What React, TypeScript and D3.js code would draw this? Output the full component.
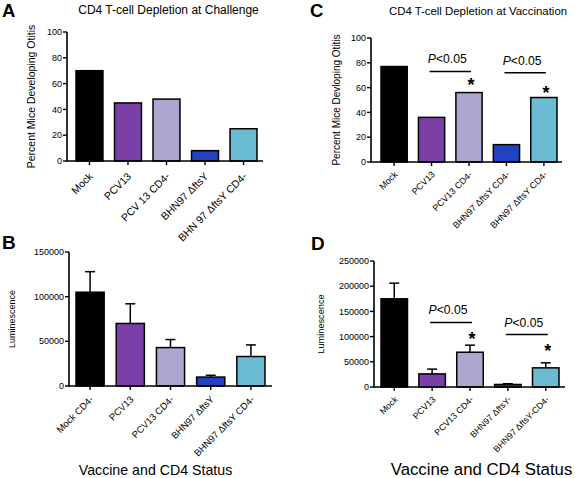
import React from "react";
import * as d3 from "d3";

// ---------- data ----------
const colors = ["#000000", "#7b3fa8", "#aca6d1", "#2242c2", "#6bbcd2"];

const catsA = ["Mock", "PCV13", "PCV 13 CD4-", "BHN97 \u0394ftsY", "BHN 97 \u0394ftsY CD4-"];
const valsA = [70, 45, 48, 8, 25];
const ticksA = [0, 20, 40, 60, 80, 100];

const catsB = ["Mock CD4-", "PCV13", "PCV13 CD4-", "BHN97 \u0394ftsY", "BHN97 \u0394ftsY CD4-"];
const valsB = [105000, 70000, 43000, 10000, 33000];
const errB = [23000, 22000, 9000, 2000, 13000];
const ticksB = [0, 50000, 100000, 150000];

const catsC = ["Mock", "PCV13", "PCV13 CD4-", "BHN97 \u0394ftsY CD4-", "BHN97 \u0394ftsY CD4-"];
const valsC = [77, 36, 56, 14, 52];
const ticksC = [0, 20, 40, 60, 80, 100];
const sigC = [[1, 2, 73], [3, 4, 72]];
const starC = [[2, 65], [4, 59]];

const catsD = ["Mock", "PCV13", "PCV13 CD4-", "BHN97 \u0394ftsY-", "BHN97 \u0394ftsY-CD4-"];
const valsD = [175000, 26000, 69000, 5000, 38000];
const errD = [31000, 9500, 14000, 1500, 10000];
const ticksD = [0, 50000, 100000, 150000, 200000, 250000];
const sigD = [[1, 2, 128000], [3, 4, 104000]];
const starD = [[2, 103000], [4, 79000]];

const FONT = "'Liberation Sans', Arial, Helvetica, sans-serif";

type PanelProps = {
  cats: string[];
  vals: number[];
  errs?: number[];
  ticks: number[];
  axisX: number;
  axisRight: number;
  band: [number, number];
  yRange: [number, number];
  yMax: number;
  yLabel: string;
  yLabelX: number;
  labelFont: number;
  labelDy: number;
  yLabelFont: number;
  sig?: number[][];
  stars?: number[][];
};

function Panel(p: PanelProps) {
  const idx = p.cats.map((_, i) => i);
  const x = d3.scaleBand<number>().domain(idx).range(p.band).paddingInner(0.3).paddingOuter(0);
  const y = d3.scaleLinear().domain([0, p.yMax]).range(p.yRange);
  const base = y(0);
  const bw = x.bandwidth();
  const cx = (i: number) => (x(i) as number) + bw / 2;
  const yMid = (p.yRange[0] + p.yRange[1]) / 2;
  return (
    <g fontFamily={FONT}>
      {idx.map((i) => (
        <rect key={"b" + i} x={x(i)} y={y(p.vals[i])} width={bw} height={base - y(p.vals[i])}
          fill={colors[i]} stroke="#000" strokeWidth={1.5} />
      ))}
      {p.errs && idx.map((i) => {
        const top = y(p.vals[i] + p.errs![i]);
        return (
          <g key={"e" + i} stroke="#000" strokeWidth={1.5}>
            <line x1={cx(i)} x2={cx(i)} y1={y(p.vals[i])} y2={top} />
            <line x1={cx(i) - 5} x2={cx(i) + 5} y1={top} y2={top} />
          </g>
        );
      })}
      {/* axes */}
      <line x1={p.axisX} x2={p.axisX} y1={base + 0.75} y2={y(p.yMax)} stroke="#000" strokeWidth={1.6} />
      <line x1={p.axisX} x2={p.axisRight} y1={base} y2={base} stroke="#000" strokeWidth={1.6} />
      {p.ticks.map((t) => (
        <g key={"t" + t}>
          <line x1={p.axisX - 4} x2={p.axisX} y1={y(t)} y2={y(t)} stroke="#000" strokeWidth={1.4} />
          <text x={p.axisX - 5} y={y(t)} dy="0.35em" textAnchor="end" fontSize={9}>{t}</text>
        </g>
      ))}
      {idx.map((i) => (
        <g key={"x" + i}>
          <line x1={cx(i)} x2={cx(i)} y1={base} y2={base + 4} stroke="#000" strokeWidth={1.4} />
          <text transform={`translate(${cx(i) + 4},${base + p.labelDy}) rotate(-45)`} textAnchor="end"
            fontSize={p.labelFont}>{p.cats[i]}</text>
        </g>
      ))}
      <text transform={`translate(${p.yLabelX},${yMid}) rotate(-90)`} textAnchor="middle"
        fontSize={p.yLabelFont}>{p.yLabel}</text>
      {p.sig && p.sig.map((s, k) => {
        const x1 = cx(s[0]) - 2;
        const x2 = cx(s[1]) + 2;
        const yy = y(s[2]);
        return (
          <g key={"s" + k}>
            <line x1={x1} x2={x2} y1={yy} y2={yy} stroke="#000" strokeWidth={1.5} />
            <text x={(x1 + x2) / 2 - 3} y={yy - 8} textAnchor="middle" fontSize={12.2}>
              <tspan fontStyle="italic">P</tspan>&lt;0.05
            </text>
          </g>
        );
      })}
      {p.stars && p.stars.map((s, k) => (
        <text key={"st" + k} x={cx(s[0]) + 2} y={y(s[1]) + 10} textAnchor="middle"
          fontSize={18} fontWeight="bold">*</text>
      ))}
    </g>
  );
}

export default function App() {
  return (
    <div style={{ position: "absolute", left: 0, top: 0 }}>
      <svg width={577} height={478} style={{ display: "block", background: "#fff" }}>
        <rect width={577} height={478} fill="#fff" />
        <g fontFamily={FONT}>
          <text x={2} y={16.5} fontSize={18.5} fontWeight="bold">A</text>
          <text x={310} y={16.5} fontSize={18.5} fontWeight="bold">C</text>
          <text x={2} y={249} fontSize={19} fontWeight="bold">B</text>
          <text x={311} y={250} fontSize={19} fontWeight="bold">D</text>
          <text x={168.5} y={14} fontSize={12} textAnchor="middle">CD4 T-cell Depletion at Challenge</text>
          <text x={478} y={15} fontSize={11.4} textAnchor="middle">CD4 T-cell Depletion at Vaccination</text>
          <text x={155.5} y={475} fontSize={14.2} textAnchor="middle">Vaccine and CD4 Status</text>
          <text x={481.5} y={475} fontSize={16.8} textAnchor="middle">Vaccine and CD4 Status</text>
        </g>
        <Panel cats={catsA} vals={valsA} ticks={ticksA} axisX={67} axisRight={263} band={[76, 257]}
          yRange={[161, 32]} yMax={100} yLabel="Percent Mice Developing Otitis" yLabelX={35}
          labelFont={10.5} labelDy={16} yLabelFont={10.5} />
        <Panel cats={catsB} vals={valsB} errs={errB} ticks={ticksB} axisX={69} axisRight={272} band={[76, 265]}
          yRange={[386, 252]} yMax={150000} yLabel="Luminescence" yLabelX={15}
          labelFont={9.5} labelDy={14} yLabelFont={9} />
        <Panel cats={catsC} vals={valsC} ticks={ticksC} axisX={371} axisRight={562} band={[381, 557]}
          yRange={[162, 38]} yMax={100} yLabel="Percent Mice Devloping Otitis" yLabelX={340}
          labelFont={9} labelDy={13} yLabelFont={10} sig={sigC} stars={starC} />
        <Panel cats={catsD} vals={valsD} errs={errD} ticks={ticksD} axisX={374} axisRight={565} band={[381, 559]}
          yRange={[387, 261]} yMax={250000} yLabel="Luminescence" yLabelX={324}
          labelFont={8.8} labelDy={13} yLabelFont={9.2} sig={sigD} stars={starD} />
      </svg>
    </div>
  );
}
